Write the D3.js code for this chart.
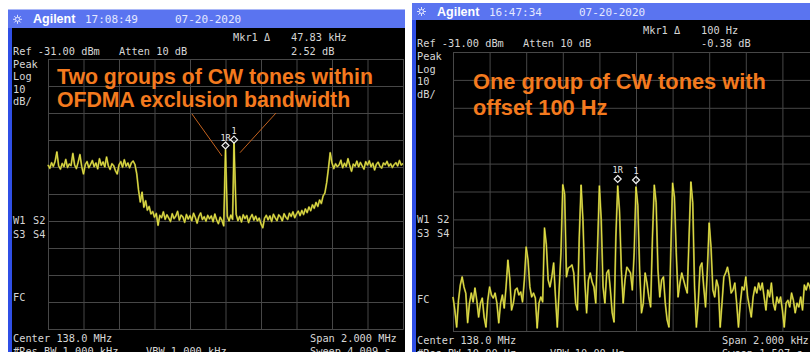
<!DOCTYPE html>
<html>
<head>
<meta charset="utf-8">
<script src="https://cdn.jsdelivr.net/npm/d3@7"></script>
<style>
  html, body { margin: 0; padding: 0; background: #ffffff; }
  svg { display: block; }
  .mono { font-family: "DejaVu Sans Mono", "Liberation Mono", monospace; font-size: 10.3px; fill: #d6d6d6; }
  .hdr { font-family: "DejaVu Sans Mono", monospace; font-size: 11px; fill: #e4e8ff; }
  .brand { font-family: "Liberation Sans", Arial, sans-serif; font-weight: bold; font-size: 12.5px; fill: #ffffff; }
  .note { font-family: "Liberation Sans", Arial, sans-serif; font-weight: bold; fill: #f47a1e; }
  .mk { font-family: "DejaVu Sans Mono", monospace; font-size: 8.5px; fill: #e8e8e8; }
  .grid line, .grid path { stroke: #474747; stroke-width: 1; }
</style>
</head>
<body>
<svg id="chart" width="810" height="352"></svg>
<script>
// ---- Wide sweep: centre 138.0 MHz, span 2.000 MHz, one sample every 10 kHz (dBm) ----
const wideStartKHz = -1000;
const wideStepKHz = 10;
const wideTrace = [
  -70.2,-71.5,-69.4,-70.8,-68.9,-65.4,-70.6,-71.8,-69.7,-70.9,
  -68.2,-71.2,-69.9,-70.5,-66.0,-70.3,-71.6,-69.2,-66.4,-70.8,
  -73.6,-70.1,-69.0,-71.3,-70.0,-68.6,-70.9,-69.5,-71.7,-67.9,
  -70.4,-69.1,-71.0,-67.3,-70.6,-71.9,-69.8,-70.5,-72.4,-73.6,
  -70.2,-69.0,-71.1,-68.3,-70.7,-69.5,-71.3,-69.4,-68.8,-70.1,
  -73.5,-79.5,-84.0,-80.3,-85.9,-83.5,-87.0,-85.6,-88.4,-87.5,
  -89.6,-88.2,-92.6,-88.9,-89.8,-87.6,-90.4,-88.7,-89.9,-91.2,
  -88.3,-90.1,-89.2,-87.4,-90.7,-88.8,-89.5,-91.5,-88.6,-90.3,
  -89.0,-90.9,-88.1,-89.7,-91.8,-89.3,-88.0,-90.5,-89.4,-91.1,
  -88.9,-90.2,-89.1,-91.3,-88.4,-90.6,-92.0,-89.6,-90.8,-92.8,
  -90.5,-89.2,-91.0,-88.8,-90.4,-89.7,-88.5,-90.9,-89.3,-91.4,
  -88.7,-90.1,-89.0,-91.6,-89.8,-88.6,-90.7,-89.2,-91.0,-89.9,
  -92.1,-93.5,-90.0,-88.9,-90.6,-89.1,-91.2,-88.5,-89.8,-90.9,
  -88.7,-89.5,-91.0,-88.3,-89.6,-90.4,-88.1,-89.3,-87.6,-89.8,
  -88.4,-87.3,-89.0,-87.1,-88.6,-86.5,-87.9,-85.8,-87.2,-85.0,
  -86.3,-84.1,-85.6,-83.2,-84.5,-81.7,-80.6,-76.8,-71.5,-65.7,
  -69.5,-71.6,-69.8,-70.9,-70.2,-68.5,-71.3,-69.6,-70.8,-67.9,
  -70.4,-72.6,-69.9,-70.7,-68.8,-71.0,-69.3,-70.6,-71.8,-69.0,
  -70.3,-68.7,-70.9,-69.6,-72.1,-70.0,-69.2,-70.8,-71.4,-69.5,
  -70.2,-68.9,-70.7,-69.8,-71.2,-70.1,-69.4,-70.6,-68.6,-70.3,
  -69.7
];
// two CW tones inside the exclusion band (kHz offset, dBm)
const wideTonesKHz = [0, 47.83];
const wideToneLevels = [-64.52, -62.00];

// ---- Narrow sweep: centre 138.0 MHz, span 2.000 kHz, one sample every 10 Hz (dBm) ----
const narrowStartHz = -1000;
const narrowStepHz = 10;
const narrowTrace = [
  -118.8,-123.5,-129.6,-120.0,-114.5,-111.6,-115.2,-117.5,-128.0,-121.0,
  -117.4,-120.6,-115.6,-120.0,-126.0,-121.0,-119.2,-126.0,-129.6,-120.0,
  -115.2,-118.1,-119.2,-117.4,-121.0,-128.1,-121.0,-118.1,-122.8,-115.2,
  -105.6,-112.0,-123.5,-121.0,-116.3,-115.6,-118.1,-117.0,-120.6,-112.7,
  -100.9,-105.6,-115.2,-118.8,-117.4,-119.2,-129.9,-121.0,-118.8,-120.6,
  -94.1,-100.0,-112.7,-115.2,-111.6,-106.6,-118.8,-129.6,-116.3,-103.0,
  -78.6,-82.0,-111.6,-108.4,-108.0,-107.3,-110.2,-121.0,-123.5,-97.3,
  -78.7,-91.2,-112.7,-124.5,-112.7,-110.2,-113.4,-115.2,-121.0,-101.0,
  -79.0,-91.2,-115.2,-121.0,-110.2,-109.1,-116.3,-124.5,-127.8,-97.3,
  -79.02,-88.0,-109.1,-121.0,-112.7,-108.1,-109.1,-110.2,-116.3,-103.0,
  -79.40,-86.0,-109.1,-124.5,-121.0,-110.2,-113.8,-118.8,-122.4,-97.3,
  -78.7,-85.0,-109.1,-118.8,-112.7,-111.6,-121.0,-127.0,-129.6,-103.0,
  -78.0,-83.0,-103.0,-118.8,-113.8,-110.2,-112.7,-115.2,-117.4,-97.3,
  -77.6,-85.0,-115.2,-129.6,-121.0,-108.1,-106.6,-115.2,-122.4,-109.1,
  -92.3,-101.0,-116.3,-118.8,-112.7,-115.2,-129.6,-121.0,-111.6,-110.2,
  -108.1,-111.6,-117.4,-116.3,-113.8,-121.0,-129.6,-121.0,-115.2,-116.3,
  -111.6,-118.8,-122.4,-126.0,-118.8,-115.2,-117.4,-113.8,-116.3,-113.8,
  -118.8,-123.5,-116.3,-118.8,-113.8,-121.0,-123.5,-118.8,-121.0,-118.8,
  -123.5,-129.6,-121.0,-120.0,-122.4,-117.4,-120.0,-124.5,-121.0,-122.4,
  -118.8,-123.5,-114.5,-116.3,-113.8,-115.2,-118.0,-121.0,-117.0,-120.0,
  -119.0
];
// delta marker pair: reference (1R) and active (1), Hz offset
const narrowMarkerHz = [-100, 0];

// Display settings shared by both sweeps
const refLevel = -31;       // dBm at top graticule line
const dbPerDiv = 10;
const divisions = 10;

// Annotation text of each panel
const wideNote = ["Two groups of CW tones within", "OFDMA exclusion bandwidth"];
const narrowNote = ["One group of CW tones with", "offset 100 Hz"];

const svg = d3.select("#chart");

// ----------------------------------------------------------------------
function drawPanel(p) {
  const g = svg.append("g");

  // instrument header bar and screen
  g.append("rect").attr("x", p.left).attr("y", p.headerTop)
    .attr("width", p.width).attr("height", p.screenTop - p.headerTop).attr("fill", "#5a74f0");
  g.append("rect").attr("x", p.left).attr("y", p.screenTop)
    .attr("width", p.width).attr("height", 352 - p.screenTop).attr("fill", "#000000");
  g.append("rect").attr("x", p.left).attr("y", p.screenTop)
    .attr("width", 4).attr("height", 352 - p.screenTop).attr("fill", "#2f4fe6");

  // header: logo, brand, time, date
  const sx = p.left + 9.5, sy = p.headerBase - 4;
  const sun = g.append("g").attr("stroke", "#dfe4ff").attr("stroke-width", 1);
  [0, 45, 90, 135].forEach(a => {
    const r = Math.PI * a / 180;
    sun.append("line").attr("x1", sx - 4.5 * Math.cos(r)).attr("y1", sy - 4.5 * Math.sin(r))
      .attr("x2", sx + 4.5 * Math.cos(r)).attr("y2", sy + 4.5 * Math.sin(r));
  });
  sun.append("circle").attr("cx", sx).attr("cy", sy).attr("r", 2).attr("fill", "#5a74f0");
  g.append("text").attr("class", "brand").attr("x", p.left + 25).attr("y", p.headerBase).text("Agilent");
  g.append("text").attr("class", "hdr").attr("x", p.left + 77).attr("y", p.headerBase).text(p.time);
  g.append("text").attr("class", "hdr").attr("x", p.left + 167).attr("y", p.headerBase).text("07-20-2020");

  // scales
  const x = d3.scaleLinear().domain(p.fDomain).range([p.plot.x0, p.plot.x1]);
  const y = d3.scaleLinear().domain([refLevel - dbPerDiv * divisions, refLevel]).range([p.plot.y1, p.plot.y0]);
  const xTicks = d3.range(divisions + 1).map(i => p.fDomain[0] + i * (p.fDomain[1] - p.fDomain[0]) / divisions);
  const yTicks = d3.range(divisions + 1).map(i => refLevel - i * dbPerDiv);

  // graticule drawn with axes
  g.append("g").attr("class", "grid")
    .attr("transform", `translate(0,${p.plot.y1})`)
    .call(d3.axisBottom(x).tickValues(xTicks).tickSize(-(p.plot.y1 - p.plot.y0)).tickFormat(""))
    .call(s => s.select(".domain").attr("stroke", "#5a5a5a"));
  g.append("g").attr("class", "grid")
    .attr("transform", `translate(${p.plot.x0},0)`)
    .call(d3.axisLeft(y).tickValues(yTicks).tickSize(-(p.plot.x1 - p.plot.x0)).tickFormat(""))
    .call(s => s.select(".domain").remove());

  // screen texts
  const tx = p.left + 5;
  const t = (cls, xx, yy, s) => g.append("text").attr("class", cls).attr("x", xx).attr("y", yy).text(s);
  t("mono", p.left + p.mkrX, p.top1, "Mkr1 \u0394");
  t("mono", p.left + p.mkrX + 58, p.top1, p.mkrFreq);
  t("mono", tx, p.top1 + 13.5, "Ref -31.00 dBm");
  t("mono", p.left + 111, p.top1 + 13.5, "Atten 10 dB");
  t("mono", p.left + p.mkrX + 58, p.top1 + 13.5, p.mkrDelta);
  ["Peak", "Log", "10", "dB/"].forEach((s, i) => t("mono", tx, p.top1 + 26.5 + i * 12.6, s));

  t("mono", tx, p.wBase, "W1").attr("fill", "#d8d444");
  t("mono", tx + 20, p.wBase, "S2").attr("fill", "#3fa64a");
  t("mono", tx, p.wBase + 14, "S3").attr("fill", "#3f97bd");
  t("mono", tx + 20, p.wBase + 14, "S4").attr("fill", "#a03fae");
  t("mono", tx, p.fcBase, "FC");

  t("mono", tx, p.botBase, "Center 138.0 MHz");
  t("mono", p.left + p.spanX, p.botBase, p.span);
  t("mono", tx, p.botBase + 12.5, p.rbw);
  t("mono", p.left + 138, p.botBase + 12.5, p.vbw);
  t("mono", p.left + p.spanX, p.botBase + 12.5, p.sweep);

  return { g, x, y };
}

const line = (x, y) => d3.line().x(d => x(d.f)).y(d => y(d.v));

function drawTrace(panel, pts) {
  panel.g.append("path").attr("d", line(panel.x, panel.y)(pts))
    .attr("fill", "none").attr("stroke", "#8c8a2a").attr("stroke-width", 1.9).attr("stroke-linejoin", "round");
  panel.g.append("path").attr("d", line(panel.x, panel.y)(pts))
    .attr("fill", "none").attr("stroke", "#ecea4a").attr("stroke-width", 0.9);
}

// ---------------- left panel: wide sweep ----------------
const L = drawPanel({
  left: 8, width: 397, headerTop: 9.5, screenTop: 28, headerBase: 23.3, time: "17:08:49",
  fDomain: [-1000, 1000], plot: { x0: 48, x1: 403, y0: 59, y1: 329 },
  top1: 41, wBase: 224, fcBase: 301, botBase: 342, spanX: 302, mkrX: 225,
  mkrFreq: "47.83 kHz", mkrDelta: (wideToneLevels[1] - wideToneLevels[0]).toFixed(2) + " dB",
  span: "Span 2.000 MHz", rbw: "#Res BW 1.000 kHz", vbw: "VBW 1.000 kHz", sweep: "Sweep 4.009 s"
});

let widePts = wideTrace.map((v, i) => ({ f: wideStartKHz + i * wideStepKHz, v }))
  .filter(d => wideTonesKHz.every(ft => Math.abs(d.f - ft) > 5));
wideTonesKHz.forEach((ft, k) => widePts.push({ f: ft, v: wideToneLevels[k] }));
widePts.sort((a, b) => a.f - b.f);
drawTrace(L, widePts);

// annotation pointers to the two tones
const lp = [
  { x1: 192, y1: 114, dx: -3.5, dy: 6.5 },
  { x1: 276, y1: 113, dx: 6, dy: 10 }
];
lp.forEach((d, k) => {
  L.g.append("line").attr("x1", d.x1).attr("y1", d.y1)
    .attr("x2", L.x(wideTonesKHz[k]) + d.dx).attr("y2", L.y(wideToneLevels[k]) + d.dy)
    .attr("stroke", "#c4621e").attr("stroke-width", 1);
});

// ---------------- right panel: narrow sweep ----------------
const R = drawPanel({
  left: 412, width: 398, headerTop: 3, screenTop: 20, headerBase: 15.5, time: "16:47:34",
  fDomain: [-1000, 1000], plot: { x0: 453, x1: 819, y0: 52, y1: 331 },
  top1: 33.5, wBase: 223, fcBase: 303, botBase: 344, spanX: 310, mkrX: 231,
  mkrFreq: (narrowMarkerHz[1] - narrowMarkerHz[0]) + " Hz",
  mkrDelta: (narrowTrace[(narrowMarkerHz[1] - narrowStartHz) / narrowStepHz] -
             narrowTrace[(narrowMarkerHz[0] - narrowStartHz) / narrowStepHz]).toFixed(2) + " dB",
  span: "Span 2.000 kHz", rbw: "#Res BW 10.00 Hz", vbw: "VBW 10.00 Hz", sweep: "Sweep 1.507 s"
});

const narrowPts = narrowTrace.map((v, i) => ({ f: narrowStartHz + i * narrowStepHz, v }));
drawTrace(R, narrowPts);

// ---------------- delta markers ----------------
function marker(panel, fx, level, lift, label, labelGap) {
  const cx = panel.x(fx), cy = panel.y(level) - lift;
  panel.g.append("path")
    .attr("d", `M${cx},${cy - 3.5}L${cx + 3.5},${cy}L${cx},${cy + 3.5}L${cx - 3.5},${cy}Z`)
    .attr("fill", "none").attr("stroke", "#f0f0f0").attr("stroke-width", 1.2);
  panel.g.append("text").attr("class", "mk").attr("text-anchor", "middle")
    .attr("x", cx).attr("y", cy - labelGap).text(label);
}
marker(L, wideTonesKHz[0], wideToneLevels[0], 4, "1R", 5);
marker(L, wideTonesKHz[1], wideToneLevels[1], 3, "1", 6);
const nv = hz => narrowTrace[(hz - narrowStartHz) / narrowStepHz];
marker(R, narrowMarkerHz[0], nv(narrowMarkerHz[0]), 7, "1R", 6);
marker(R, narrowMarkerHz[1], nv(narrowMarkerHz[1]), 7, "1", 6);

// ---------------- annotation captions ----------------
function caption(panel, lines, x0, base, targetWidth) {
  const t0 = panel.g.append("text").attr("class", "note").attr("x", x0).attr("y", base[0])
    .style("font-size", "20px").text(lines[0]);
  const size = 20 * targetWidth / t0.node().getComputedTextLength();
  t0.style("font-size", size + "px");
  panel.g.append("text").attr("class", "note").attr("x", x0).attr("y", base[1])
    .style("font-size", size + "px").text(lines[1]);
}
caption(L, wideNote, 57, [84, 107.3], 316);
caption(R, narrowNote, 473, [89.3, 115], 293);
</script>
</body>
</html>
